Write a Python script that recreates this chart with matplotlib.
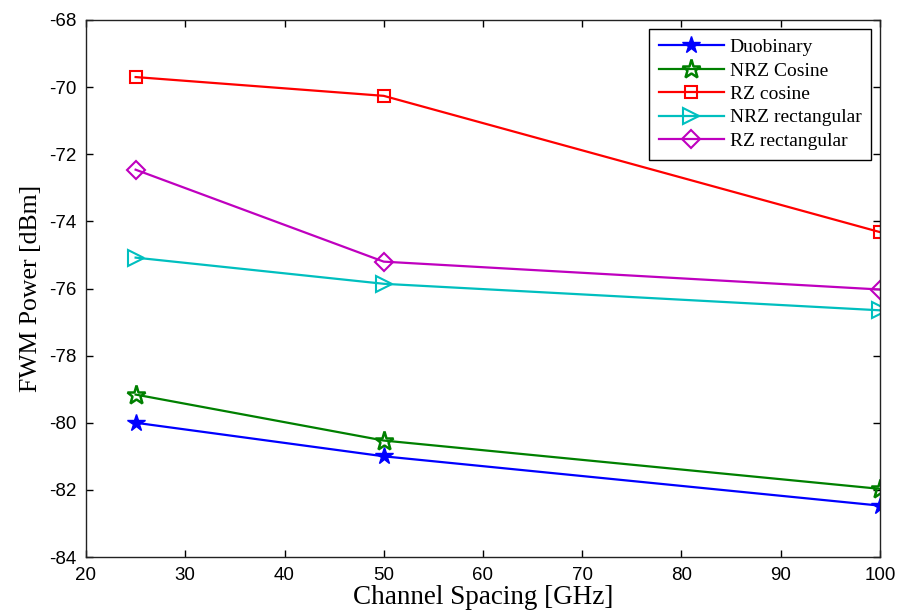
import matplotlib
matplotlib.use("Agg")
import matplotlib.pyplot as plt

plt.rcParams["axes.unicode_minus"] = False

x = [25, 50, 100]
duobinary = [-80.0, -81.0, -82.47]
nrz_cosine = [-79.16, -80.53, -81.97]
rz_cosine = [-69.7, -70.26, -74.32]
nrz_rect = [-75.08, -75.86, -76.65]
rz_rect = [-72.46, -75.2, -76.03]

labels = ["Duobinary", "NRZ Cosine", "RZ cosine", "NRZ rectangular", "RZ rectangular"]
xticks = [20, 30, 40, 50, 60, 70, 80, 90, 100]
yticks = [-84, -82, -80, -78, -76, -74, -72, -70, -68]

fig = plt.figure(figsize=(8.98, 6.12), dpi=100)
ax = fig.add_axes([86/898, 55/612, (880-86)/898, (557-20)/612])

ax.plot(x, duobinary, color="#0000ff", lw=1.6, marker="*", ms=13, mfc="#0000ff", mec="#0000ff", label=labels[0])
ax.plot(x, nrz_cosine, color="#008000", lw=1.6, marker="*", ms=14, mfc="none", mec="#008000", mew=1.8, label=labels[1])
ax.plot(x, rz_cosine, color="#ff0000", lw=1.6, marker="s", ms=9, mfc="none", mec="#ff0000", mew=1.5, label=labels[2])
ax.plot(x, nrz_rect, color="#00bfbf", lw=1.6, marker=">", ms=11, mfc="none", mec="#00bfbf", mew=1.5, label=labels[3])
ax.plot(x, rz_rect, color="#bf00bf", lw=1.6, marker="D", ms=9, mfc="none", mec="#bf00bf", mew=1.5, label=labels[4])

ax.set_xlim(20, 100)
ax.set_ylim(-84, -68)
ax.set_xticks(xticks)
ax.set_yticks(yticks)
ax.tick_params(direction="in", length=5, width=1, top=True, right=True, labelsize=13.5, pad=7)
for lab in ax.get_xticklabels() + ax.get_yticklabels():
    lab.set_family("Liberation Sans")
for s in ax.spines.values():
    s.set_linewidth(1)
    s.set_color("#222222")

ax.set_xlabel("Channel Spacing [GHz]", family="Liberation Serif", fontsize=19.5, labelpad=1)
ax.set_ylabel("FWM Power [dBm]", family="Liberation Serif", fontsize=18.5, labelpad=5)

leg = ax.legend(loc="upper right", prop={"family": "Liberation Serif", "size": 14},
                fancybox=False, edgecolor="black", framealpha=1, borderaxespad=0.45,
                handlelength=3.35, handletextpad=0.3, labelspacing=0.3, borderpad=0.5)
leg.get_frame().set_linewidth(1)

fig.savefig("out.png", dpi=100)
